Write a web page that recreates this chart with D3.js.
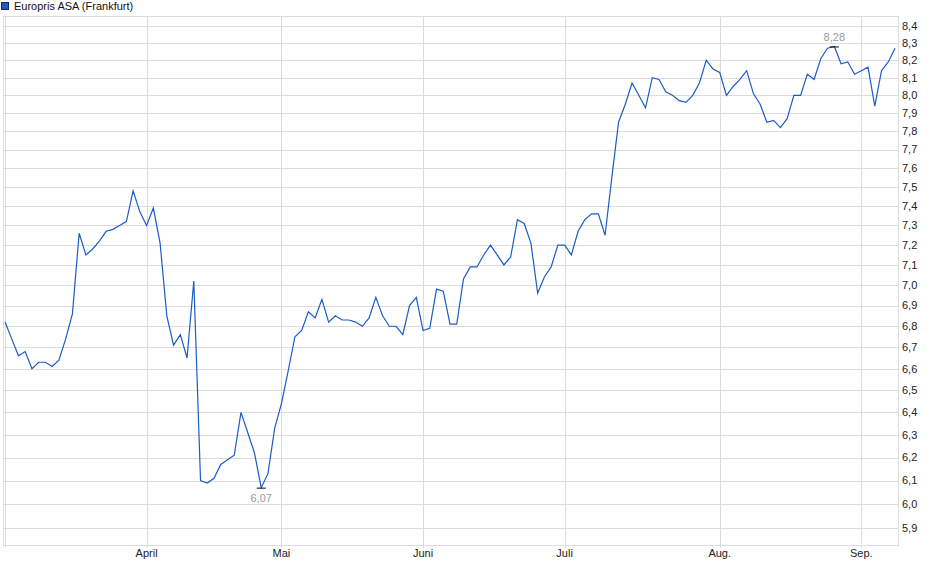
<!DOCTYPE html>
<html>
<head>
<meta charset="utf-8">
<script src="https://cdn.jsdelivr.net/npm/d3@7"></script>
<style>
  html, body { margin: 0; padding: 0; background: #fff; }
  svg { display: block; font-family: "Liberation Sans", Arial, sans-serif; }
</style>
</head>
<body>
<svg id="chart" width="940" height="579"></svg>
<script>
// closing prices, one per trading day (Frankfurt)
const prices = [
  6.82, 6.74, 6.66, 6.68, 6.60, 6.63, 6.63, 6.61, 6.64, 6.74,
  6.86, 7.26, 7.15, 7.18, 7.22, 7.27, 7.28, 7.30, 7.32, 7.48,
  7.37, 7.30, 7.39, 7.21, 6.85, 6.71, 6.76, 6.65, 7.02, 6.10,
  6.09, 6.11, 6.17, 6.19, 6.21, 6.40, 6.31, 6.22, 6.07, 6.13,
  6.33, 6.44, 6.59, 6.75, 6.78, 6.87, 6.84, 6.93, 6.82, 6.85,
  6.83, 6.83, 6.82, 6.80, 6.84, 6.94, 6.85, 6.80, 6.80, 6.76,
  6.90, 6.94, 6.78, 6.79, 6.98, 6.97, 6.81, 6.81, 7.03, 7.09,
  7.09, 7.15, 7.20, 7.15, 7.10, 7.14, 7.33, 7.31, 7.21, 6.96,
  7.04, 7.09, 7.20, 7.20, 7.15, 7.27, 7.33, 7.36, 7.36, 7.25,
  7.55, 7.85, 7.95, 8.07, 8.00, 7.93, 8.10, 8.09, 8.02, 8.00,
  7.97, 7.96, 8.00, 8.07, 8.20, 8.15, 8.13, 8.00, 8.05, 8.09,
  8.14, 8.01, 7.95, 7.85, 7.86, 7.82, 7.87, 8.00, 8.00, 8.12,
  8.09, 8.21, 8.27, 8.28, 8.18, 8.19, 8.12, 8.14, 8.16, 7.94,
  8.14, 8.19, 8.27
];

// month starts (index of first trading day) and their labels
const monthLabels = ['April', 'Mai', 'Juni', 'Juli', 'Aug.', 'Sep.'];
const monthIndex = [21, 41, 62, 83, 106, 127];

// price axis ticks
const yTicks = [5.9, 6.0, 6.1, 6.2, 6.3, 6.4, 6.5, 6.6, 6.7, 6.8, 6.9, 7.0, 7.1,
  7.2, 7.3, 7.4, 7.5, 7.6, 7.7, 7.8, 7.9, 8.0, 8.1, 8.2, 8.3, 8.4];

const seriesName = 'Europris ASA (Frankfurt)';

const svg = d3.select('#chart');
const plot = { left: 3, right: 898, top: 16, bottom: 545 };
const lineColor = '#1b5cc6';
const gridColor = '#dcdcdc';

const x = d3.scaleLinear().domain([0, prices.length - 1]).range([5, 895]);
const y = d3.scaleLog().domain([5.9, 8.4]).range([528, 26]);

const fmt = v => d3.format('.1f')(v).replace('.', ',');
const fmt2 = v => d3.format('.2f')(v).replace('.', ',');

// legend
svg.append('rect')
  .attr('x', 1.5).attr('y', 2.5).attr('width', 7).attr('height', 7)
  .attr('fill', '#1b5cc6').attr('stroke', '#1a2a55').attr('stroke-width', 1);
svg.append('text')
  .attr('x', 14).attr('y', 10)
  .attr('font-size', 11).attr('fill', '#111')
  .text(seriesName);

// horizontal grid
svg.append('g').selectAll('line').data(yTicks).join('line')
  .attr('x1', plot.left).attr('x2', plot.right)
  .attr('y1', d => Math.round(y(d)) + 0.5).attr('y2', d => Math.round(y(d)) + 0.5)
  .attr('stroke', gridColor).attr('stroke-width', 1);

// vertical grid at month starts
svg.append('g').selectAll('line').data(monthIndex).join('line')
  .attr('x1', d => Math.round(x(d)) + 0.5).attr('x2', d => Math.round(x(d)) + 0.5)
  .attr('y1', plot.top).attr('y2', plot.bottom + 3)
  .attr('stroke', gridColor).attr('stroke-width', 1);

// first day line
svg.append('line')
  .attr('x1', Math.round(x(0)) + 0.5).attr('x2', Math.round(x(0)) + 0.5)
  .attr('y1', plot.top).attr('y2', plot.bottom + 3)
  .attr('stroke', gridColor);

// plot frame
svg.append('rect')
  .attr('x', plot.left + 0.5).attr('y', plot.top + 0.5)
  .attr('width', plot.right - plot.left).attr('height', plot.bottom - plot.top)
  .attr('fill', 'none').attr('stroke', gridColor);

// y tick labels on the right
svg.append('g').selectAll('text').data(yTicks).join('text')
  .attr('x', 902).attr('y', d => y(d))
  .attr('dy', '0.35em')
  .attr('font-size', 11).attr('fill', '#222')
  .text(d => fmt(d));

// month labels
svg.append('g').selectAll('text').data(monthIndex).join('text')
  .attr('x', d => x(d)).attr('y', 557)
  .attr('text-anchor', 'middle')
  .attr('font-size', 11).attr('fill', '#222')
  .text((d, i) => monthLabels[i]);

// price line
const line = d3.line().x((d, i) => x(i)).y(d => y(d));
svg.append('path')
  .datum(prices)
  .attr('d', line)
  .attr('fill', 'none')
  .attr('stroke', lineColor)
  .attr('stroke-width', 1.2)
  .attr('stroke-linejoin', 'miter');

// min / max markers
const minI = d3.minIndex(prices);
const maxI = d3.maxIndex(prices);

function marker(i, above) {
  const px = x(i), py = y(prices[i]);
  svg.append('line')
    .attr('x1', px - 4.5).attr('x2', px + 4.5)
    .attr('y1', py + 0.5).attr('y2', py + 0.5)
    .attr('stroke', '#000').attr('stroke-width', 1);
  svg.append('text')
    .attr('x', px).attr('y', above ? py - 5 : py + 14)
    .attr('text-anchor', 'middle')
    .attr('font-size', 11).attr('fill', '#9a9a9a')
    .text(fmt2(prices[i]));
}
marker(minI, false);
marker(maxI, true);
</script>
</body>
</html>
